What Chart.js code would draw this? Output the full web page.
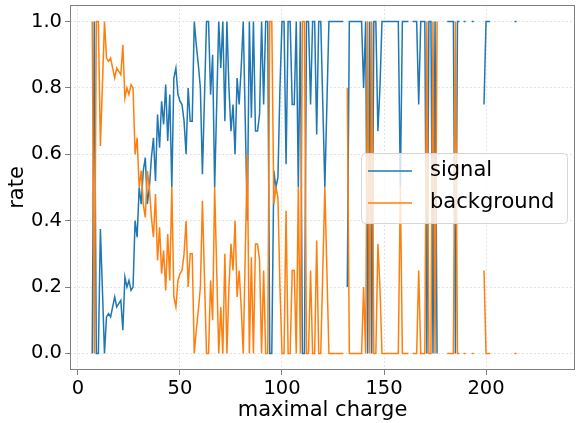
<!DOCTYPE html>
<html>
<head>
<meta charset="utf-8">
<title>signal / background rate vs maximal charge</title>
<script src="https://cdn.jsdelivr.net/npm/chart.js@4.4.0/dist/chart.umd.min.js"></script>
<style>
    html, body { margin: 0; padding: 0; background: #ffffff; }
    #wrap { width: 576px; height: 423px; }
</style>
</head>
<body>
<div id="wrap"><canvas id="rateChart" width="576" height="423"></canvas></div>
<script>
// Data (null = no entries in that bin)
const firstCharge = 7;

const signalRate = [
    0, 1, 0, 0, 0.375, 0.19, 0, 0.11, 0.12, 0.11,            // 7-16
    0.14, 0.17, 0.14, 0.15, 0.16, 0.07, 0.23, 0.20, 0.22, 0.19, // 17-26
    0.20, 0.40, 0.35, 0.50, 0.45, 0.55, 0.59, 0.45, 0.50, 0.59, // 27-36
    0.65, 0.52, 0.72, 0.62, 0.76, 0.69, 0.81, 0.64, 0.78, 0.50, // 37-46
    0.83, 0.86, 0.78, 0.76, 0.75, 0.70, 0.60, 0.80, 0.70, 0.70, // 47-56
    1, 0.93, 0.87, 0.80, 0.54, 0.77, 1, 1, 0.78, 0.90,          // 57-66
    0.50, 0.75, 1, 0.86, 1, 0.70, 1, 0.80, 0.67, 0.75,          // 67-76
    0.60, 0.83, 0.75, 0.86, 1, 0.70, 0.40, 1, 0.71, 1,          // 77-86
    0.67, 0.67, 0.72, 1, 0.75, 1, 1, 0, 0, 0.55,                // 87-96
    0.50, 0.53, 0.80, 1, 1, 0.57, 1, 1, 0.75, 0.75,             // 97-106
    1, 0.50, 1, 0, 0, 1, 1, 0.75, 1, 1,                         // 107-116
    0.66, 1, 1, 0.75, 0.50, 0.75, 1, 1, 1, 1,                   // 117-126
    1, 1, 1, 1, null, 0.20, 1, 1, 1, 1,                         // 127-136
    1, 1, 1, 0.80, 1, 0, 1, 0, 1, 1,                            // 137-146
    0.67, 0.80, 1, 1, 1, 1, 1, 1, 1, 1,                         // 147-156
    1, 0.50, 1, 1, 1, 1, null, 1, 1, 1,                         // 157-166
    0.75, 1, 1, 1, 0, 1, 1, 0, 1, 0,                            // 167-176
    null, null, null, null, 1, 1, 1, 1, 0, 1,                   // 177-186
    1, null, 1, 1, null, null, 1, 1, null, null,                // 187-196
    null, null, 0.75, 1, 1, 1, null, null, null, null,          // 197-206
    null, null, null, null, null, null, null, 1, 1              // 207-215
];

const backgroundRate = [
    1, 0, 1, 1, 0.625, 0.81, 1, 0.89, 0.88, 0.89,
    0.86, 0.83, 0.86, 0.85, 0.84, 0.93, 0.77, 0.80, 0.78, 0.81,
    0.80, 0.60, 0.65, 0.50, 0.55, 0.45, 0.41, 0.55, 0.50, 0.41,
    0.35, 0.48, 0.28, 0.38, 0.24, 0.31, 0.19, 0.36, 0.22, 0.50,
    0.17, 0.14, 0.22, 0.24, 0.25, 0.30, 0.40, 0.20, 0.30, 0.30,
    0, 0.07, 0.13, 0.20, 0.46, 0.23, 0, 0, 0.22, 0.10,
    0.50, 0.25, 0, 0.14, 0, 0.30, 0, 0.20, 0.33, 0.25,
    0.40, 0.17, 0.25, 0.14, 0, 0.30, 0.60, 0, 0.29, 0,
    0.33, 0.33, 0.28, 0, 0.25, 0, 0, 1, 1, 0.45,
    0.50, 0.47, 0.20, 0, 0, 0.43, 0, 0, 0.25, 0.25,
    0, 0.50, 0, 1, 1, 0, 0, 0.25, 0, 0,
    0.34, 0, 0, 0.25, 0.50, 0.25, 0, 0, 0, 0,
    0, 0, 0, 0, null, 0.80, 0, 0, 0, 0,
    0, 0, 0, 0.20, 0, 1, 0, 1, 0, 0,
    0.33, 0.20, 0, 0, 0, 0, 0, 0, 0, 0,
    0, 0.50, 0, 0, 0, 0, null, 0, 0, 0,
    0.25, 0, 0, 0, 1, 0, 0, 1, 0, 1,
    null, null, null, null, 0, 0, 0, 0, 1, 0,
    0, null, 0, 0, null, null, 0, 0, null, null,
    null, null, 0.25, 0, 0, 0, null, null, null, null,
    null, null, null, null, null, null, null, 0, 0
];

const seriesLabels = ['signal', 'background'];
const seriesColors = ['#1f77b4', '#ff7f0e'];
const xTicks = [0, 50, 100, 150, 200];
const yTicks = [0, 0.2, 0.4, 0.6, 0.8, 1.0];

const FONT = 'DejaVu Sans, sans-serif';

function toPoints(values) {
    return values.map((v, i) => ({ x: firstCharge + i, y: v }));
}

function fixedTicks(values) {
    return function(scale) {
        scale.ticks = values.map(v => ({ value: v }));
    };
}

// Box around the plot area, like matplotlib spines
const frame = {
    id: 'frame',
    beforeDatasetsDraw(chart) {
        const { ctx, chartArea: a } = chart;
        ctx.save();
        ctx.strokeStyle = '#7f7f7f';
        ctx.lineWidth = 1;
        ctx.strokeRect(a.left + 0.5, a.top + 0.5, a.right - a.left - 1, a.bottom - a.top - 1);
        ctx.restore();
    }
};

// Legend box sitting inside the plot, centre right
const insideLegend = {
    id: 'insideLegend',
    afterDraw(chart) {
        const ctx = chart.ctx;
        const x = 361, y = 153, w = 206, h = 70, r = 4;
        ctx.save();
        ctx.beginPath();
        ctx.roundRect(x + 0.5, y + 0.5, w, h, r);
        ctx.fillStyle = 'rgba(255,255,255,0.8)';
        ctx.fill();
        ctx.strokeStyle = '#d6d6d6';
        ctx.lineWidth = 1;
        ctx.stroke();

        ctx.font = '21px ' + FONT;
        ctx.textBaseline = 'middle';
        ctx.fillStyle = '#000';
        chart.data.datasets.forEach((ds, i) => {
            const ly = 171 + i * 32;
            ctx.beginPath();
            ctx.moveTo(368, ly);
            ctx.lineTo(412, ly);
            ctx.strokeStyle = ds.borderColor;
            ctx.lineWidth = 1.5;
            ctx.stroke();
            ctx.fillText(ds.label, 430, ly);
        });
        ctx.restore();
    }
};

new Chart(document.getElementById('rateChart'), {
    type: 'line',
    data: {
        datasets: [
            {
                label: seriesLabels[0],
                data: toPoints(signalRate),
                borderColor: seriesColors[0],
                borderWidth: 1.5,
                pointRadius: 0,
                spanGaps: false,
                order: 1
            },
            {
                label: seriesLabels[1],
                data: toPoints(backgroundRate),
                borderColor: seriesColors[1],
                borderWidth: 1.5,
                pointRadius: 0,
                spanGaps: false,
                order: 0
            }
        ]
    },
    options: {
        responsive: false,
        animation: false,
        devicePixelRatio: 1,
        layout: { padding: { top: 5, right: 1, left: 0, bottom: 0 } },
        plugins: {
            legend: { display: false },
            tooltip: { enabled: false }
        },
        scales: {
            x: {
                type: 'linear',
                min: -3.9,
                max: 243.6,
                afterBuildTicks: fixedTicks(xTicks),
                afterFit: function(scale) {
                    scale.height = 53;
                    scale.paddingLeft = 0;
                    scale.paddingRight = 0;
                },
                ticks: {
                    color: '#000',
                    padding: 2,
                    maxRotation: 0,
                    autoSkip: false,
                    font: { family: FONT, size: 19.5 },
                    callback: v => v.toString()
                },
                grid: {
                    color: '#dcdcdc',
                    lineWidth: 0.8,
                    tickLength: 5,
                    tickColor: '#7f7f7f',
                    tickWidth: 1
                },
                border: { display: false, dash: [2, 2] },
                title: {
                    display: true,
                    text: 'maximal charge',
                    color: '#000',
                    font: { family: FONT, size: 21 },
                    padding: { top: 0, bottom: 0 }
                }
            },
            y: {
                min: -0.05,
                max: 1.05,
                afterBuildTicks: fixedTicks(yTicks),
                afterFit: function(scale) {
                    scale.width = 70;
                    scale.paddingTop = 0;
                    scale.paddingBottom = 0;
                },
                ticks: {
                    color: '#000',
                    padding: 3,
                    autoSkip: false,
                    font: { family: FONT, size: 19.5 },
                    callback: v => v.toFixed(1)
                },
                grid: {
                    color: '#dcdcdc',
                    lineWidth: 0.8,
                    tickLength: 5,
                    tickColor: '#7f7f7f',
                    tickWidth: 1
                },
                border: { display: false, dash: [2, 2] },
                title: {
                    display: true,
                    text: 'rate',
                    color: '#000',
                    font: { family: FONT, size: 21 },
                    padding: { top: 5, bottom: 0 }
                }
            }
        }
    },
    plugins: [frame, insideLegend]
});
</script>
</body>
</html>
